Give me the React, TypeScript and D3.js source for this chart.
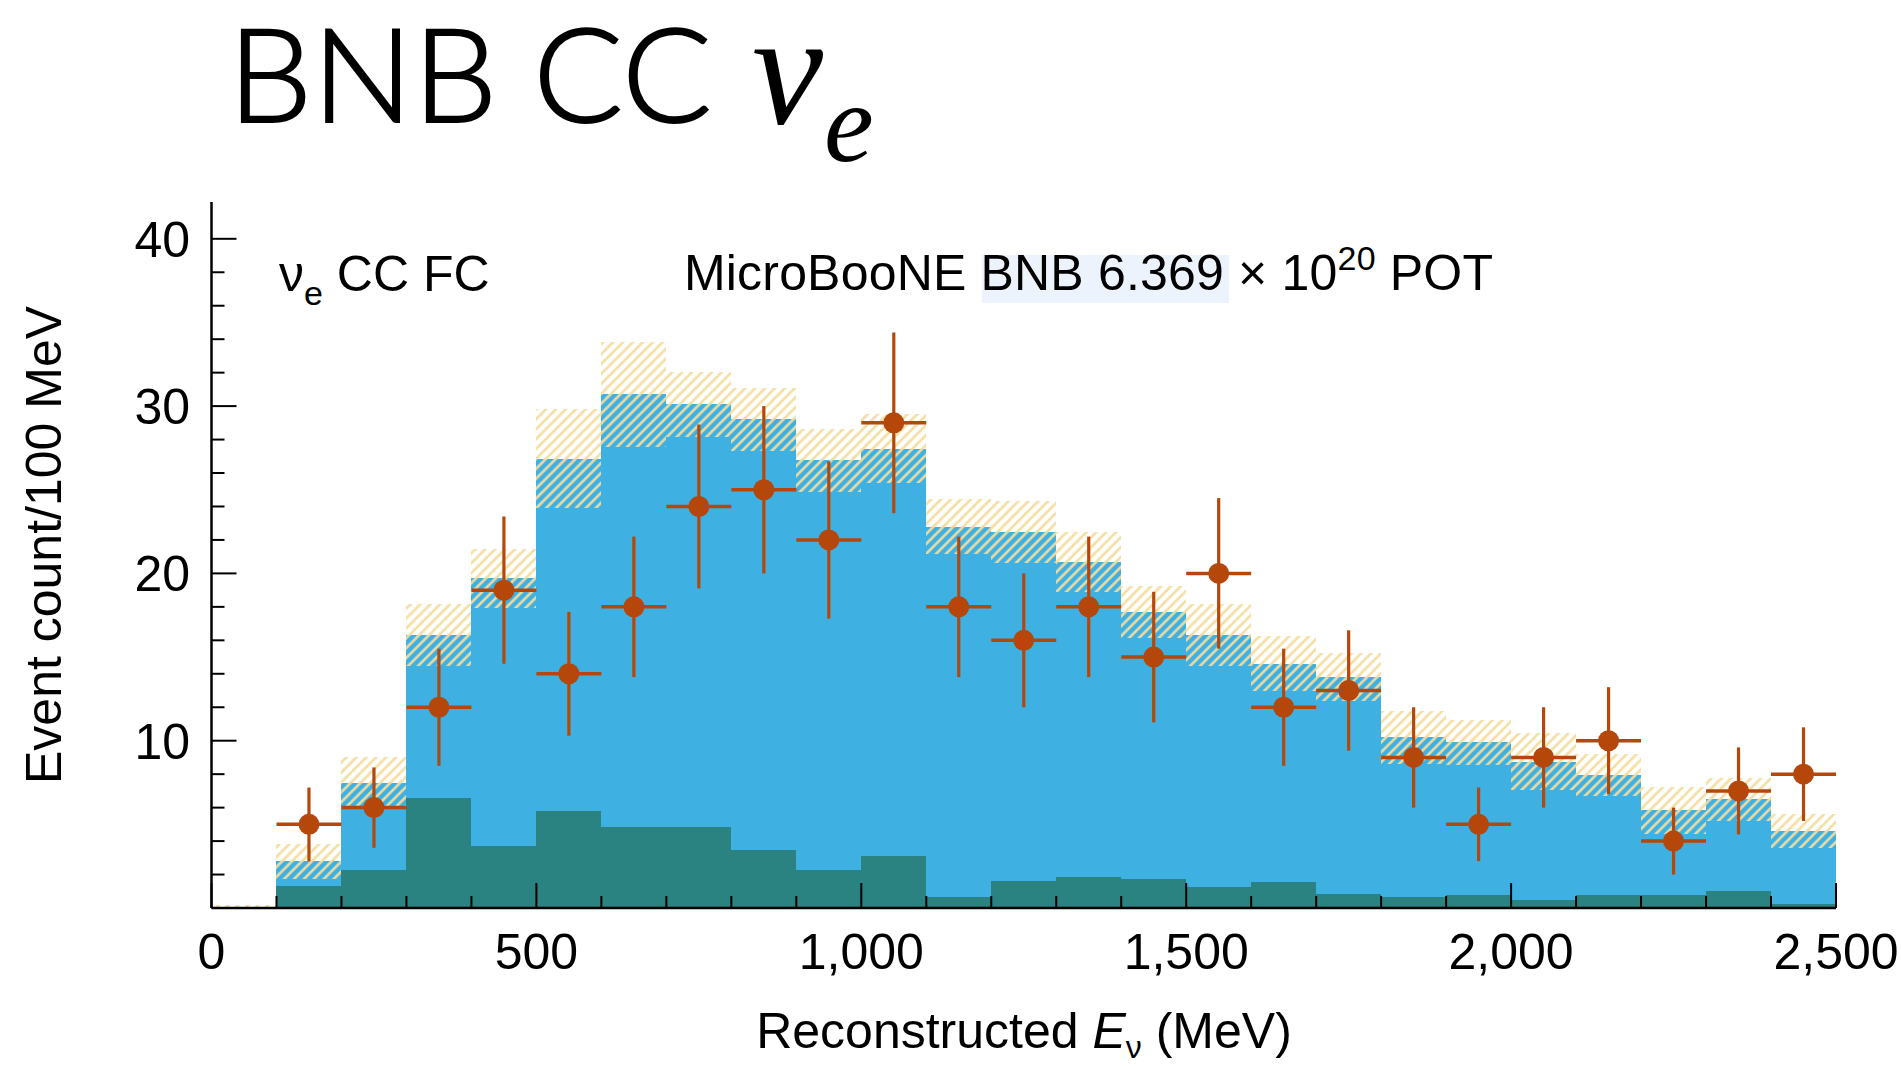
import React from 'react';
import * as d3 from 'd3';

// Bin lower edges (MeV), 100 MeV wide bins
const binLow = [0, 100, 200, 300, 400, 500, 600, 700, 800, 900, 1000, 1100, 1200, 1300, 1400, 1500, 1600, 1700, 1800, 1900, 2000, 2100, 2200, 2300, 2400];
const binWidth = 100;

// Background (dark teal) prediction per bin
const background = [0, 1.33, 2.29, 6.57, 3.68, 5.77, 4.84, 4.84, 3.48, 2.25, 3.1, 0.66, 1.59, 1.85, 1.73, 1.26, 1.55, 0.86, 0.66, 0.75, 0.5, 0.75, 0.75, 1.0, 0.24];
// Total prediction (top of blue) per bin
const totalPred = [0, 2.8, 7.5, 16.3, 19.7, 26.85, 30.7, 30.1, 29.2, 26.75, 27.45, 22.8, 22.5, 20.7, 17.7, 16.3, 14.6, 13.8, 10.2, 9.9, 8.75, 7.95, 5.85, 6.5, 4.6];
// Prediction uncertainty (half width of hatched band)
const predErr = [0.15, 1.05, 1.55, 1.85, 1.75, 2.95, 3.15, 1.95, 1.9, 1.9, 2.05, 1.65, 1.85, 1.8, 1.55, 1.85, 1.65, 1.45, 1.6, 1.35, 1.7, 1.25, 1.4, 1.3, 1.0];

// Observed data
const dataBinLow = [100, 200, 300, 400, 500, 600, 700, 800, 900, 1000, 1100, 1200, 1300, 1400, 1500, 1600, 1700, 1800, 1900, 2000, 2100, 2200, 2300, 2400];
const dataCounts = [5, 6, 12, 19, 14, 18, 24, 25, 22, 29, 18, 16, 18, 15, 20, 12, 13, 9, 5, 9, 10, 4, 7, 8];
const dataErr = [2.2, 2.4, 3.5, 4.4, 3.7, 4.2, 4.9, 5.0, 4.7, 5.4, 4.2, 4.0, 4.2, 3.9, 4.5, 3.5, 3.6, 3.0, 2.2, 3.0, 3.2, 2.0, 2.6, 2.8];

// Axis ticks
const xTickValues = [0, 500, 1000, 1500, 2000, 2500];
const xTickLabels = ['0', '500', '1,000', '1,500', '2,000', '2,500'];
const yTickValues = [10, 20, 30, 40];
const yTickLabels = ['10', '20', '30', '40'];

const BLUE = '#3eb1e2';
const TEAL = '#2a8281';
const DATA = '#b5470b';
const HATCH = '#f4dc9e';
const SANS = '"Liberation Sans", Arial, Helvetica, sans-serif';

export default function App() {
  const x = d3.scaleLinear().domain([0, 2500]).range([211.5, 1836]);
  const y = d3.scaleLinear().domain([0, 42.2]).range([908, 202]);

  const minorX = d3.range(0, 2501, 100);
  const minorY = d3.range(0, 41, 2);

  return (
    <svg
      width={1901}
      height={1066}
      style={{ position: 'absolute', left: 0, top: 0, display: 'block', background: '#fff' }}
    >
      <defs>
        <pattern id="hatch" patternUnits="userSpaceOnUse" width={7} height={7} patternTransform="rotate(45)">
          <line x1={3.5} y1={-1} x2={3.5} y2={8} stroke={HATCH} strokeWidth={2.5} />
        </pattern>
      </defs>

      {/* Title */}
      <text x={228} y={122} fontFamily="Lato, 'Open Sans', sans-serif" fontWeight={300} fontSize={130} fill="#000" stroke="#000" strokeWidth={2} textLength={484} lengthAdjust="spacingAndGlyphs">BNB CC</text>
      <text x={752} y={123} fontFamily="'Liberation Serif', 'Times New Roman', serif" fontStyle="italic" fontSize={160} fill="#000">ν</text>
      <text x={824} y={161} fontFamily="'Liberation Serif', 'Times New Roman', serif" fontStyle="italic" fontSize={112} fill="#000">e</text>

      {/* Stacked histogram: total (blue) then background (teal) */}
      {binLow.map((b, i) => (
        <rect key={'tot' + i} x={x(b)} y={y(totalPred[i])} width={x(b + binWidth) - x(b)} height={y(0) - y(totalPred[i])} fill={BLUE} shapeRendering="crispEdges" />
      ))}
      {binLow.map((b, i) => (
        <rect key={'bkg' + i} x={x(b)} y={y(background[i])} width={x(b + binWidth) - x(b)} height={y(0) - y(background[i])} fill={TEAL} shapeRendering="crispEdges" />
      ))}
      {/* Uncertainty band */}
      {binLow.map((b, i) => {
        const lo = Math.max(0, totalPred[i] - predErr[i]);
        const hi = totalPred[i] + predErr[i];
        return (
          <rect key={'err' + i} x={x(b)} y={y(hi)} width={x(b + binWidth) - x(b)} height={y(lo) - y(hi)} fill="url(#hatch)" shapeRendering="crispEdges" />
        );
      })}

      {/* Text highlight */}
      <rect x={982} y={255} width={247} height={48} fill="#edf3fc" />

      {/* Labels inside plot */}
      <text x={279} y={291} fontFamily={SANS} fontSize={50} fill="#000">
        ν<tspan fontSize={34} dy={14}>e</tspan>
        <tspan dy={-14}> CC FC</tspan>
      </text>
      <text x={684} y={290} fontFamily={SANS} fontSize={50} fill="#000" textLength={809} lengthAdjust="spacing">
        MicroBooNE BNB 6.369 × 10<tspan fontSize={34} dy={-20}>20</tspan>
        <tspan dy={20}> POT</tspan>
      </text>

      {/* Data points */}
      {dataBinLow.map((b, i) => {
        const cx = x(b + binWidth / 2);
        const cy = y(dataCounts[i]);
        return (
          <g key={'d' + i}>
            <line x1={x(b)} x2={x(b + binWidth)} y1={cy} y2={cy} stroke={DATA} strokeWidth={3.5} />
            <line x1={cx} x2={cx} y1={y(dataCounts[i] + dataErr[i])} y2={y(dataCounts[i] - dataErr[i])} stroke={DATA} strokeWidth={3.2} />
            <circle cx={cx} cy={cy} r={10.5} fill={DATA} />
          </g>
        );
      })}

      {/* Axes */}
      <line x1={x(0)} x2={x(2500)} y1={y(0)} y2={y(0)} stroke="#000" strokeWidth={2.5} />
      <line x1={x(0)} x2={x(0)} y1={y(0)} y2={202} stroke="#000" strokeWidth={2.5} />
      {minorX.map((v) => (
        <line key={'xt' + v} x1={x(v)} x2={x(v)} y1={y(0)} y2={y(0) - (v % 500 === 0 ? 25 : 12)} stroke="#000" strokeWidth={2} />
      ))}
      {minorY.map((v) => (
        <line key={'yt' + v} x1={x(0)} x2={x(0) + (v % 10 === 0 ? 25 : 13)} y1={y(v)} y2={y(v)} stroke="#000" strokeWidth={2} />
      ))}
      {xTickValues.map((v, i) => (
        <text key={'xl' + v} x={x(v)} y={969} textAnchor="middle" fontFamily={SANS} fontSize={50} fill="#000">{xTickLabels[i]}</text>
      ))}
      {yTickValues.map((v, i) => (
        <text key={'yl' + v} x={190} y={y(v)} dy="0.36em" textAnchor="end" fontFamily={SANS} fontSize={50} fill="#000">{yTickLabels[i]}</text>
      ))}

      {/* Axis titles */}
      <text x={1024} y={1048} textAnchor="middle" fontFamily={SANS} fontSize={50} fill="#000">
        Reconstructed <tspan fontStyle="italic">E</tspan>
        <tspan fontSize={32} dy={10}>ν</tspan>
        <tspan dy={-10}> (MeV)</tspan>
      </text>
      <text transform="translate(61,545) rotate(-90)" textAnchor="middle" fontFamily={SANS} fontSize={50} fill="#000">Event count/100 MeV</text>
    </svg>
  );
}
